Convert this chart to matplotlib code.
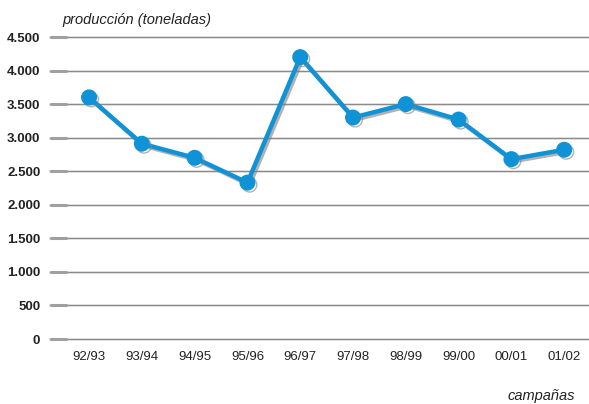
import matplotlib
matplotlib.use("Agg")
import matplotlib.pyplot as plt
import matplotlib.patheffects as pe
from matplotlib.ticker import FuncFormatter

plt.rcParams['font.family'] = ['Liberation Sans', 'DejaVu Sans']

campaigns = ["92/93", "93/94", "94/95", "95/96", "96/97", "97/98", "98/99", "99/00", "00/01", "01/02"]
production = [3600, 2910, 2700, 2330, 4200, 3300, 3500, 3270, 2680, 2820]
y_ticks = [0, 500, 1000, 1500, 2000, 2500, 3000, 3500, 4000, 4500]

fig = plt.figure(figsize=(5.89, 4.04), dpi=100)
ax = fig.add_axes([50/589, 65/404, 539/589, 302/404])

x = list(range(len(campaigns)))
ax.set_xlim(-0.74, 9.47)
ax.set_ylim(0, 4500)

# horizontal grid lines with a faint light edge below
for v in y_ticks:
    ax.axhline(v, color="#e0e0e0", lw=2.0, zorder=1, clip_on=False)
    ax.axhline(v, color="#8a8a8a", lw=0.8, zorder=1.1, clip_on=False)

shadow = [pe.SimpleLineShadow(offset=(1.5, -1.5), shadow_color="#808080", alpha=0.6), pe.Normal()]
ax.plot(x, production, color="#0f93d6", lw=3.2, marker="o", markersize=10.5,
        markerfacecolor="#0f93d6", markeredgecolor="#0f93d6", zorder=3,
        path_effects=shadow, clip_on=False)

ax.set_yticks(y_ticks)
ax.yaxis.set_major_formatter(FuncFormatter(lambda v, p: f"{int(v):,}".replace(",", ".")))
ax.set_xticks(x)
ax.set_xticklabels(campaigns)

for s in ax.spines.values():
    s.set_visible(False)
ax.tick_params(axis="y", direction="in", length=12, width=2.2, color="#a0a0a0", pad=7,
               labelsize=9.5, zorder=2)
ax.tick_params(axis="x", length=0, pad=9, labelsize=9.5, labelcolor="#222222")
for lbl in ax.get_yticklabels():
    lbl.set_fontweight("bold")
    lbl.set_color("#222222")

fig.text(62/589, 1 - 20/404, "producción (toneladas)", fontsize=10.5, style="italic",
         color="#222222", ha="left", va="center")
fig.text(575/589, 1 - 396/404, "campañas", fontsize=10.5, style="italic",
         color="#222222", ha="right", va="center")

fig.savefig("out.png", dpi=100)
